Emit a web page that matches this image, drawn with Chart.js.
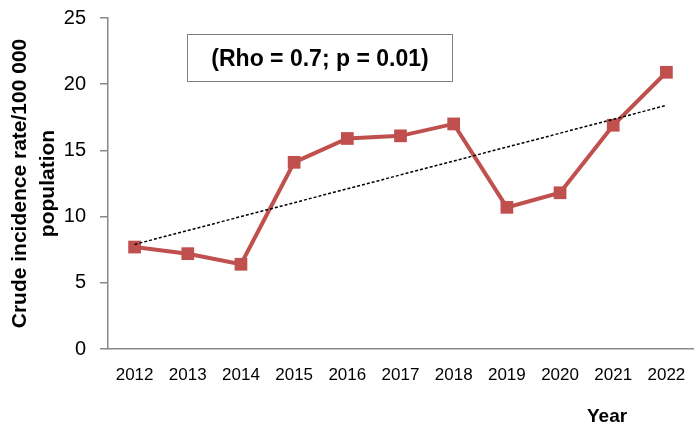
<!DOCTYPE html>
<html>
<head>
<meta charset="utf-8">
<script src="https://cdn.jsdelivr.net/npm/chart.js@4.4.1/dist/chart.umd.min.js"></script>
<style>
    html, body { margin: 0; padding: 0; background: #fff; }
    #wrap { position: relative; width: 698px; height: 435px; }
    #rhoBox {
        position: absolute; left: 187px; top: 34px; width: 266px; height: 48px;
        border: 1.5px solid #7f7f7f; box-sizing: border-box;
        display: flex; align-items: center; justify-content: center;
        font: bold 23px "Liberation Sans", Arial, sans-serif; color: #000;
    }
    #xTitle {
        position: absolute; left: 587px; top: 405px;
        font: bold 19px "Liberation Sans", Arial, sans-serif; color: #000;
    }
</style>
</head>
<body>
<div id="wrap">
    <canvas id="chart" width="698" height="435"></canvas>
    <div id="rhoBox">(Rho = 0.7; p = 0.01)</div>
    <div id="xTitle">Year</div>
</div>
<script>
// --- DATOS ---
const years = ['2012', '2013', '2014', '2015', '2016', '2017', '2018', '2019', '2020', '2021', '2022'];
const incidence = [7.7, 7.2, 6.4, 14.1, 15.9, 16.1, 17.0, 10.7, 11.8, 16.9, 20.9];
// tendencia lineal: solo extremos
const trend = [7.9, null, null, null, null, null, null, null, null, null, 18.4];
const yTicks = [0, 5, 10, 15, 20, 25];

const axisColor = '#898989';
const fontFamily = '"Liberation Sans", Arial, sans-serif';

const ctx = document.getElementById('chart').getContext('2d');

new Chart(ctx, {
    type: 'line',
    data: {
        labels: years,
        datasets: [
            {
                label: 'Trend',
                data: trend,
                spanGaps: true,
                borderColor: '#000',
                borderWidth: 1.5,
                borderDash: [3, 2],
                pointRadius: 0,
                fill: false,
                order: 0
            },
            {
                label: 'Incidence',
                data: incidence,
                borderColor: '#C0504D',
                backgroundColor: '#C0504D',
                borderWidth: 4,
                pointStyle: 'rect',
                pointRadius: 9,
                pointBorderWidth: 0,
                tension: 0,
                fill: false,
                order: 1
            }
        ]
    },
    options: {
        responsive: false,
        animation: false,
        layout: { autoPadding: false, padding: { left: 4, right: 5, top: 18, bottom: 46 } },
        plugins: {
            legend: { display: false },
            tooltip: { enabled: false }
        },
        scales: {
            x: {
                offset: true,
                afterFit: (axis) => {
                    // fijar alto del eje y quitar el relleno extra de Chart.js
                    axis.height = 40;
                    axis.paddingLeft = 0;
                    axis.paddingRight = 0;
                },
                grid: { display: false, drawTicks: false },
                border: { display: true, color: axisColor, width: 1.5 },
                ticks: {
                    color: '#000',
                    font: { family: fontFamily, size: 17 },
                    padding: 16,
                    maxRotation: 0
                }
            },
            y: {
                min: 0,
                max: 25,
                afterBuildTicks: (axis) => { axis.ticks = yTicks.map(v => ({ value: v })); },
                afterFit: (axis) => {
                    axis.width = 104;
                    axis.paddingTop = 0;
                    axis.paddingBottom = 0;
                },
                grid: { display: true, drawOnChartArea: false, drawTicks: true, tickLength: 8, color: axisColor, lineWidth: 1.5 },
                border: { display: true, color: axisColor, width: 1.5 },
                ticks: {
                    color: '#000',
                    font: { family: fontFamily, size: 20 },
                    padding: 14
                },
                title: {
                    display: true,
                    text: ['Crude incidence rate/100 000', 'population'],
                    color: '#000',
                    font: { family: fontFamily, size: 21, weight: 'bold', lineHeight: 1.35 },
                    padding: { top: 2, bottom: 4 }
                }
            }
        }
    }
});
</script>
</body>
</html>
